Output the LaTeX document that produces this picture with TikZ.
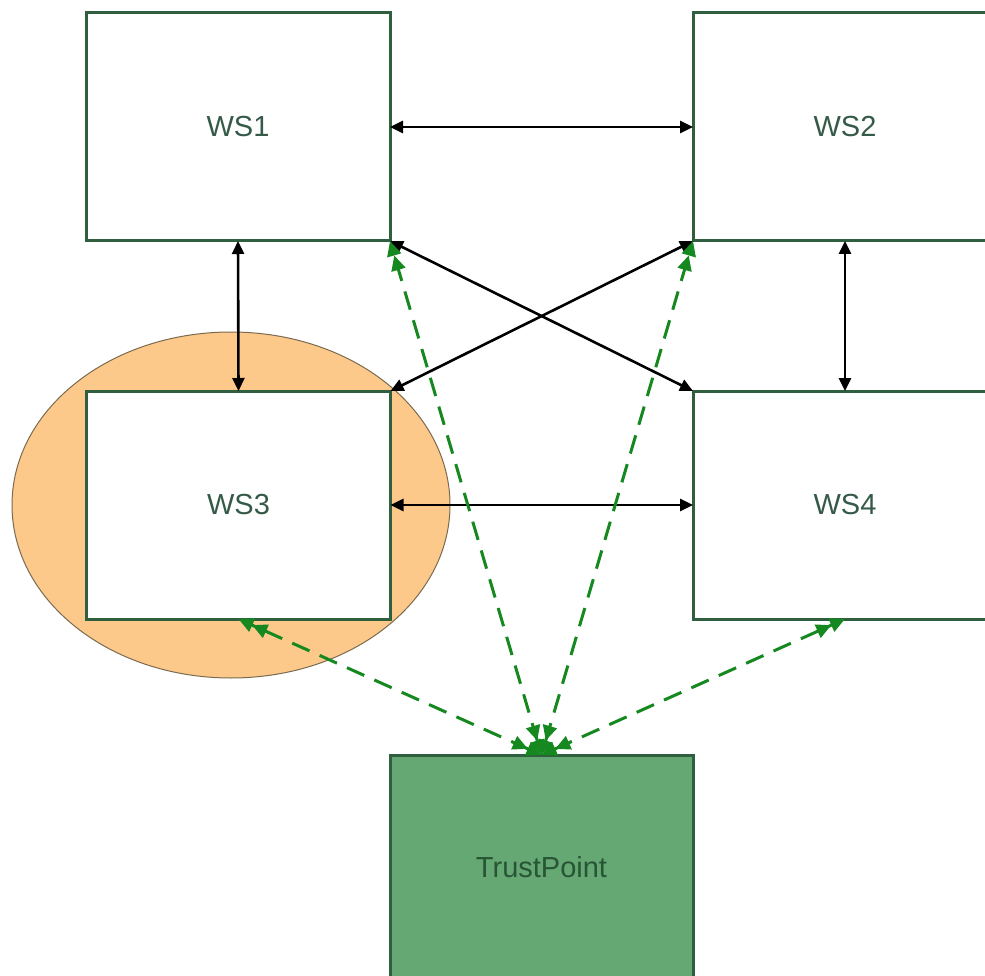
\documentclass[tikz,border=0pt]{standalone}
\usepackage{fontspec}
\setmainfont{Liberation Sans}
\usetikzlibrary{arrows.meta,shapes.geometric}
\definecolor{boxline}{HTML}{2F5F3F}
\definecolor{labeltext}{HTML}{365A48}
\definecolor{tpfill}{HTML}{66A873}
\definecolor{tptext}{HTML}{275535}
\definecolor{grpfill}{HTML}{FDC98A}
\definecolor{grpline}{HTML}{7A6A50}
\definecolor{linkgreen}{HTML}{158820}
\tikzset{
  wsbox/.style={draw=boxline, line width=3pt, fill=white, rectangle,
    minimum width=304pt, minimum height=228pt, outer sep=0pt,
    text=labeltext, font=\fontsize{29}{34}\selectfont},
  tpbox/.style={wsbox, fill=tpfill, text=tptext, minimum width=303pt,
    minimum height=224pt},
  grpshape/.style={ellipse, draw=grpline, line width=1pt, fill=grpfill,
    minimum width=438pt, minimum height=346pt, inner sep=0pt},
  blktip/.style={Triangle[length=13pt,width=12pt]},
  grntip/.style={Triangle[length=15pt,width=14pt]},
  blklink/.style={draw=black, line width=2.6pt, {Triangle[length=13pt,width=12pt]}-{Triangle[length=13pt,width=12pt]}},
  grnlink/.style={draw=linkgreen, line width=3pt, dash pattern=on 19pt off 11pt,
    {Triangle[length=15pt,width=14pt]Triangle[length=15pt,width=14pt]}-{Triangle[length=15pt,width=14pt]Triangle[length=15pt,width=14pt]}},
}
\begin{document}
\begin{tikzpicture}[x=1pt,y=-1pt]
\useasboundingbox (0,0) rectangle (985,976);
\clip (0,0) rectangle (985,976);
\fill[white] (0,0) rectangle (985,976);

% highlighted group around WS3
\node[grpshape] (grp) at (231,505) {};

% workstations and the trust point
\node[wsbox] (ws1) at (238,127) {WS1};
\node[wsbox] (ws2) at (845,127) {WS2};
\node[wsbox] (ws3) at (238.5,505) {WS3};
\node[wsbox] (ws4) at (845,505) {WS4};
\node[tpbox] (tp) at (541.5,867) {TrustPoint};

% peer links
\draw[blklink] (ws1.east) -- (ws2.west);
\draw[blklink] (ws1.south) -- (ws3.north);
\draw[blklink] (ws2.south) -- (ws4.north);
\draw[blklink] (ws3.east) -- (ws4.west);
\draw[blklink] (ws1.south east) -- (ws4.north west);
\draw[blklink] (ws2.south west) -- (ws3.north east);

% trust links
\draw[grnlink] (tp.north) -- (ws3.south);
\draw[grnlink] (tp.north) -- (ws1.south east);
\draw[grnlink] (tp.north) -- (ws2.south west);
\draw[grnlink] (tp.north) -- (ws4.south);
\end{tikzpicture}
\end{document}
